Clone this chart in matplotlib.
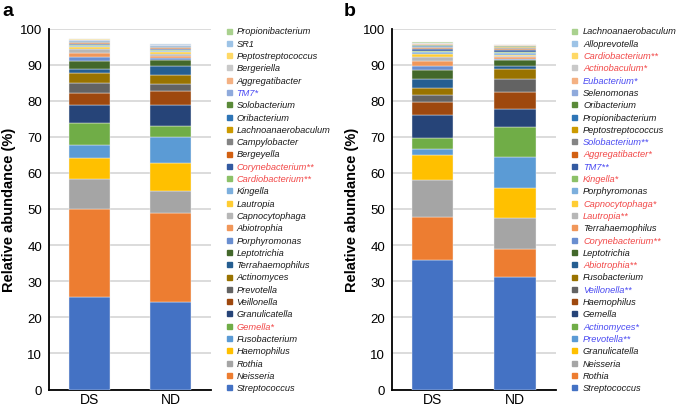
import matplotlib
matplotlib.use("Agg")
import matplotlib.pyplot as plt
from matplotlib.patches import Rectangle

plt.rcParams["font.family"] = ["Liberation Sans", "DejaVu Sans"]

groups = ["DS", "ND"]

# panel a, taxa listed bottom to top of the stack
taxa_a = [
    "Streptococcus", "Neisseria", "Rothia", "Haemophilus", "Fusobacterium", "Gemella*",
    "Granulicatella", "Veillonella", "Prevotella", "Actinomyces", "Terrahaemophilus", "Leptotrichia",
    "Porphyromonas", "Abiotrophia", "Capnocytophaga", "Lautropia", "Kingella", "Cardiobacterium**",
    "Corynebacterium**", "Bergeyella", "Campylobacter", "Lachnoanaerobaculum", "Oribacterium", "Solobacterium",
    "TM7*", "Aggregatibacter", "Bergeriella", "Peptostreptococcus", "SR1", "Propionibacterium",
]
ds_a = [25.5, 24.5, 8.2, 5.8, 3.8, 5.9, 5.2, 3.2, 2.8, 2.7, 1.3, 2.0, 1.1, 1.2, 1.1, 0.6,
        0.3, 0.3, 0.25, 0.2, 0.25, 0.15, 0.15, 0.15, 0.1, 0.1, 0.1, 0.05, 0.05, 0.05]
nd_a = [24.3, 24.6, 6.0, 7.8, 7.2, 3.1, 5.7, 3.9, 2.1, 2.5, 2.3, 1.7, 0.6, 0.6, 0.6, 0.4,
        0.3, 0.3, 0.3, 0.2, 0.3, 0.15, 0.15, 0.15, 0.1, 0.1, 0.05, 0.05, 0.05, 0.05]
red_a = ["Gemella*", "Cardiobacterium**", "Corynebacterium**"]
blue_a = ["TM7*"]

# panel b
taxa_b = [
    "Streptococcus", "Rothia", "Neisseria", "Granulicatella", "Prevotella**", "Actinomyces*",
    "Gemella", "Haemophilus", "Veillonella**", "Fusobacterium", "Abiotrophia**", "Leptotrichia",
    "Corynebacterium**", "Terrahaemophilus", "Lautropia**", "Capnocytophaga*", "Porphyromonas", "Kingella*",
    "TM7**", "Aggregatibacter*", "Solobacterium**", "Peptostreptococcus", "Propionibacterium", "Oribacterium",
    "Selenomonas", "Eubacterium*", "Actinobaculum*", "Cardiobacterium**", "Alloprevotella", "Lachnoanaerobaculum",
]
ds_b = [36.0, 11.7, 10.2, 7.0, 1.6, 3.3, 6.2, 3.6, 1.9, 2.0, 2.6, 2.3, 1.3, 1.2, 1.2, 0.8,
        0.5, 0.5, 0.3, 0.4, 0.2, 0.2, 0.2, 0.15, 0.2, 0.15, 0.15, 0.15, 0.1, 0.1]
nd_b = [31.3, 7.7, 8.4, 8.5, 8.5, 8.4, 4.8, 4.8, 3.6, 2.8, 0.9, 1.5, 0.4, 0.5, 0.3, 0.3,
        0.6, 0.3, 0.4, 0.2, 0.3, 0.3, 0.2, 0.1, 0.1, 0.1, 0.05, 0.05, 0.05, 0.05]
red_b = ["Cardiobacterium**", "Actinobaculum*", "Aggregatibacter*", "Kingella*", "Capnocytophaga*",
         "Lautropia**", "Corynebacterium**", "Abiotrophia**"]
blue_b = ["Eubacterium*", "Solobacterium**", "TM7**", "Veillonella**", "Actinomyces*", "Prevotella**"]

# excel-like series palette
colors = [
    "#4472C4", "#ED7D31", "#A5A5A5", "#FFC000", "#5B9BD5", "#70AD47",
    "#264478", "#9E480E", "#636363", "#997300", "#255E91", "#43682B",
    "#698ED0", "#F1975A", "#B7B7B7", "#FFCD33", "#7CAFDD", "#8CC168",
    "#335AA1", "#D26012", "#848484", "#CC9A00", "#2E75B6", "#5A8A39",
    "#8FAADC", "#F4B183", "#C9C9C9", "#FFD966", "#9DC3E6", "#A9D18E",
]
RED = "#F24848"
BLUE = "#4A4AF2"

W, H = 685, 406
fig = plt.figure(figsize=(W / 100, H / 100), dpi=100)


def draw_panel(rect, taxa, ds, nd, reds, blues, letter, letter_x, leg_sq_x, leg_txt_x):
    ax = fig.add_axes(rect)
    bottoms = [0.0, 0.0]
    for i, name in enumerate(taxa):
        vals = [ds[i], nd[i]]
        ax.bar([0, 1], vals, width=0.5, bottom=bottoms, color=colors[i],
               edgecolor="#F2F2F2", linewidth=0.3, zorder=3)
        bottoms = [bottoms[0] + vals[0], bottoms[1] + vals[1]]

    ax.set_xlim(-0.5, 1.5)
    ax.set_ylim(0, 100)
    ax.set_yticks(range(0, 101, 10))
    ax.set_xticks([0, 1])
    ax.set_xticklabels(groups, fontsize=10)
    ax.tick_params(axis="y", length=0, labelsize=9.5, pad=5)
    ax.tick_params(axis="x", length=0, pad=1.5)
    ax.grid(axis="y", color="#D9D9D9", linewidth=1.3, zorder=0)
    for s in ["top", "right"]:
        ax.spines[s].set_visible(False)
    ax.spines["left"].set_linewidth(1.3)
    ax.spines["bottom"].set_linewidth(1.3)
    ax.set_ylabel("Relative abundance (%)", fontsize=10.5, fontweight="bold", labelpad=3)

    fig.text(letter_x / W, 1 - 12 / H, letter, fontsize=14, fontweight="bold",
             ha="left", va="center")

    # legend, top entry is last taxon
    y0, step, sq = 32.0, 12.3, 5.0
    for k, name in enumerate(reversed(taxa)):
        idx = len(taxa) - 1 - k
        yc = y0 + k * step
        fig.patches.append(Rectangle((leg_sq_x / W, 1 - (yc + sq / 2) / H), sq / W, sq / H,
                                     transform=fig.transFigure, color=colors[idx]))
        c = RED if name in reds else (BLUE if name in blues else "#1A1A1A")
        fig.text(leg_txt_x / W, 1 - yc / H, name, fontsize=6.7, style="italic",
                 color=c, ha="left", va="center")
    return ax


draw_panel([49 / W, 15.5 / H, 162 / W, 361 / H], taxa_a, ds_a, nd_a, red_a, blue_a,
           "a", 2, 226.5, 236.5)
draw_panel([392 / W, 15.5 / H, 164 / W, 361 / H], taxa_b, ds_b, nd_b, red_b, blue_b,
           "b", 344, 571.5, 583)

fig.savefig("out.png", dpi=100)
